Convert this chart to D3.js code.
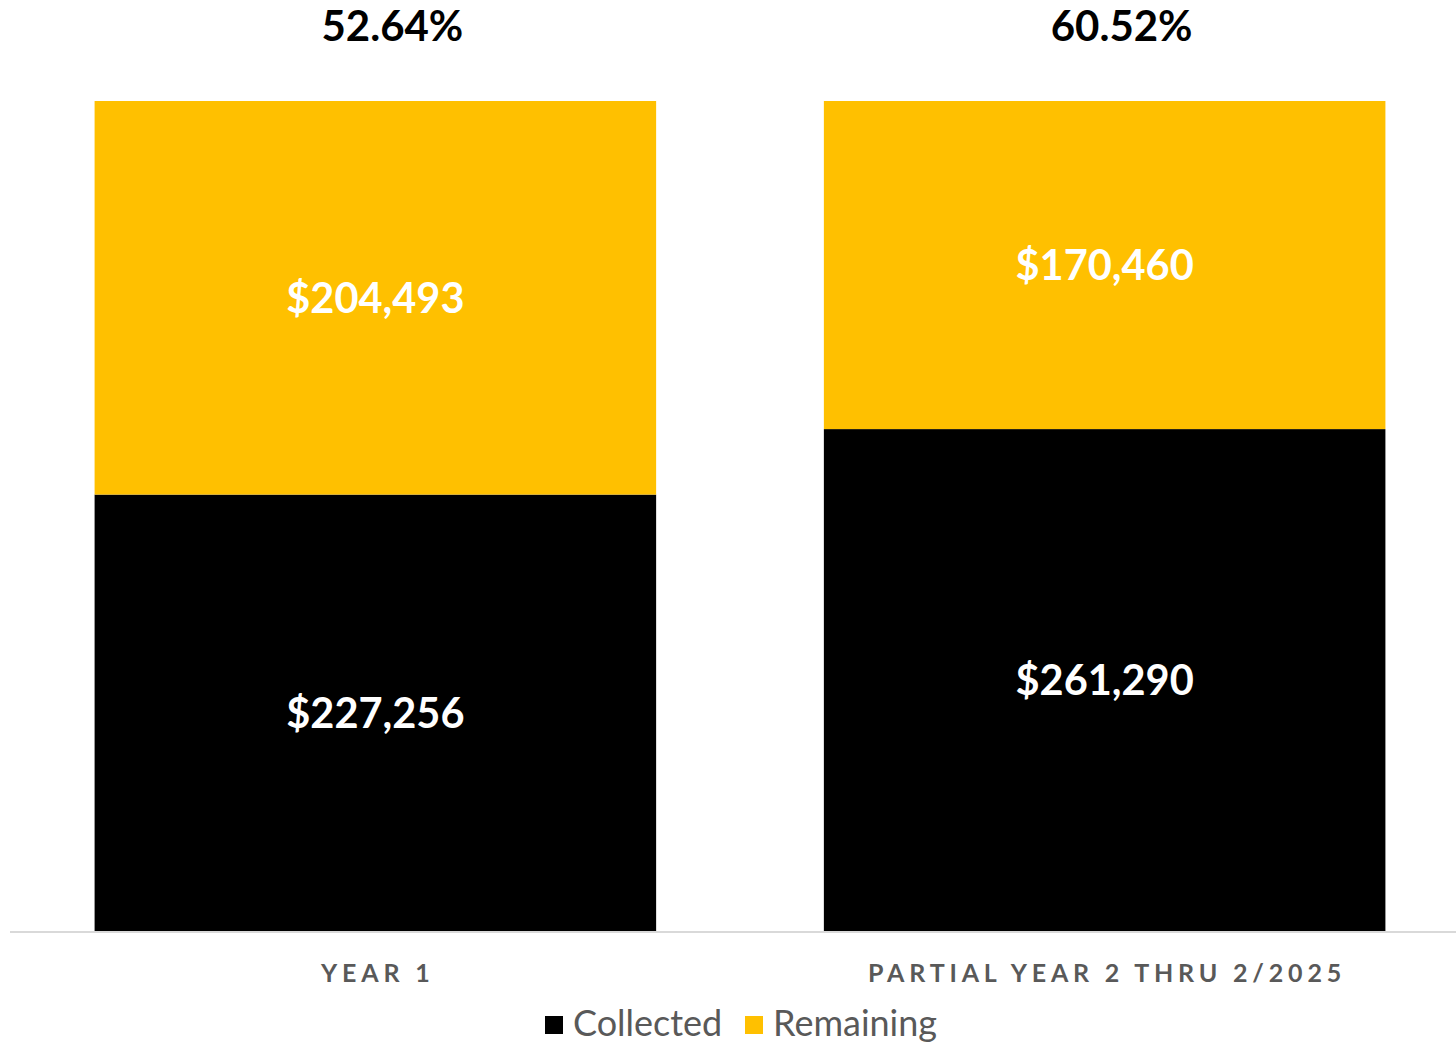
<!DOCTYPE html>
<html>
<head>
<meta charset="utf-8">
<script src="https://cdn.jsdelivr.net/npm/d3@7"></script>
<style>
  body { margin: 0; background: #fff; }
  svg { display: block; font-family: Lato, "Open Sans", sans-serif; }
</style>
</head>
<body>
<script>
var width = 1456;
var height = 1049;

// data
var categories = ["YEAR 1", "PARTIAL YEAR 2 THRU 2/2025"];
var collected = [227256, 261290];
var remaining = [204493, 170460];
var percentLabels = ["52.64%", "60.52%"];
var seriesNames = ["Collected", "Remaining"];
var seriesColors = ["#000000", "#ffc000"];

var rows = categories.map(function(c, i) {
  return { cat: c, Collected: collected[i], Remaining: remaining[i] };
});

var stack = d3.stack().keys(seriesNames);
var stacked = stack(rows);

var xScale = d3.scaleBand()
  .domain(categories)
  .range([10, 1470])
  .paddingInner(0.23)
  .paddingOuter(0.116);

var yScale = d3.scaleLinear()
  .domain([0, d3.max(rows, function(d) { return d.Collected + d.Remaining; })])
  .range([932, 101]);

var color = d3.scaleOrdinal().domain(seriesNames).range(seriesColors);
var fmt = d3.format("$,");

var svg = d3.select("body").append("svg")
  .attr("width", width)
  .attr("height", height);

// bars
var layers = svg.selectAll("g.layer")
  .data(stacked)
  .enter()
  .append("g")
  .attr("class", "layer")
  .attr("fill", function(d) { return color(d.key); });

layers.selectAll("rect")
  .data(function(d) { return d; })
  .enter()
  .append("rect")
  .attr("x", function(d) { return xScale(d.data.cat); })
  .attr("width", xScale.bandwidth())
  .attr("y", function(d) { return yScale(d[1]); })
  .attr("height", function(d) { return yScale(d[0]) - yScale(d[1]); });

// value labels inside the segments
layers.selectAll("text")
  .data(function(d) { return d; })
  .enter()
  .append("text")
  .attr("x", function(d) { return xScale(d.data.cat) + xScale.bandwidth() / 2; })
  .attr("y", function(d) { return (yScale(d[0]) + yScale(d[1])) / 2; })
  .attr("dy", "0.36em")
  .attr("text-anchor", "middle")
  .attr("fill", "#fff")
  .attr("font-weight", 700)
  .attr("font-size", 41.5)
  .text(function(d) { return fmt(d[1] - d[0]); });

// percent labels above the bars
svg.selectAll("text.pct")
  .data(categories)
  .enter()
  .append("text")
  .attr("class", "pct")
  .attr("x", function(d) { return xScale(d) + xScale.bandwidth() / 2 + 17; })
  .attr("y", 41)
  .attr("text-anchor", "middle")
  .attr("fill", "#000")
  .attr("font-weight", 700)
  .attr("font-size", 42)
  .text(function(d, i) { return percentLabels[i]; });

// x axis
var xAxis = d3.axisBottom(xScale).tickSize(0).tickPadding(0);
var gx = svg.append("g")
  .attr("transform", "translate(0,932)")
  .call(xAxis);
gx.select(".domain")
  .attr("d", "M10,0H1456")
  .attr("stroke", "#d9d9d9")
  .attr("stroke-width", 2);
gx.selectAll(".tick text")
  .attr("x", 2.4)
  .attr("y", 50)
  .attr("dy", 0)
  .attr("fill", "#595959")
  .attr("font-family", "Lato, sans-serif")
  .attr("font-weight", 700)
  .attr("font-size", 25)
  .attr("letter-spacing", "4.8px");

// legend
var legendItems = [
  { name: "Collected", x: 545 },
  { name: "Remaining", x: 745 }
];
var legend = svg.selectAll("g.legend")
  .data(legendItems)
  .enter()
  .append("g")
  .attr("class", "legend")
  .attr("transform", function(d) { return "translate(" + d.x + ",1016)"; });
legend.append("rect")
  .attr("width", 18)
  .attr("height", 18)
  .attr("fill", function(d) { return color(d.name); });
legend.append("text")
  .attr("x", 28)
  .attr("y", 20)
  .attr("fill", "#595959")
  .attr("font-size", 36)
  .text(function(d) { return d.name; });
</script>
</body>
</html>
